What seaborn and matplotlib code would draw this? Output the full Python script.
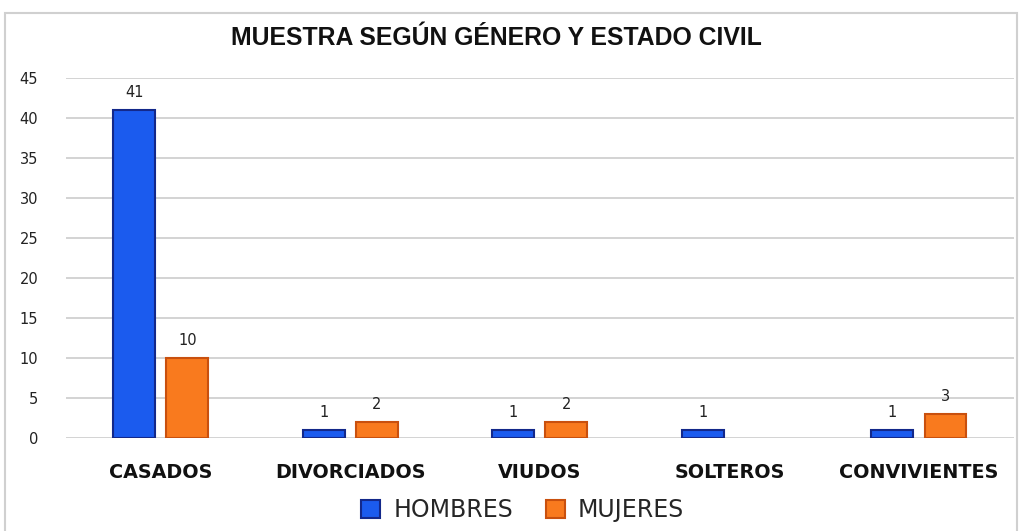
import matplotlib
matplotlib.use("Agg")
import matplotlib.pyplot as plt
import seaborn as sns
import pandas as pd
from matplotlib import font_manager
from matplotlib.patches import Rectangle, Patch

categories = ["CASADOS", "DIVORCIADOS", "VIUDOS", "SOLTEROS", "CONVIVIENTES"]
hombres = [41, 1, 1, 1, 1]
mujeres = [10, 2, 2, 0, 3]
series_names = ["HOMBRES", "MUJERES"]
title = "MUESTRA SEGÚN GÉNERO Y ESTADO CIVIL"
yticks = [0, 5, 10, 15, 20, 25, 30, 35, 40, 45]

sns.set_theme(style="white")
plt.rcParams['font.family'] = ['DejaVu Sans']

names = {f.name for f in font_manager.fontManager.ttflist}
title_font = "Liberation Sans Narrow" if "Liberation Sans Narrow" in names else "Liberation Sans"
title_size = 20 if title_font == "Liberation Sans Narrow" else 17.8

df = pd.DataFrame({
    "cat": categories * 2,
    "serie": [series_names[0]] * len(categories) + [series_names[1]] * len(categories),
    "val": hombres + mujeres,
})

fill = {"HOMBRES": "#1B5BEE", "MUJERES": "#F97A1E"}
edge = {"HOMBRES": "#13288A", "MUJERES": "#C9500E"}

fig = plt.figure(figsize=(10.19, 5.31), dpi=100)
ax = fig.add_axes([0.0648, 0.175, 0.93, 0.678])

sns.barplot(data=df, x="cat", y="val", hue="serie", order=categories,
            hue_order=series_names, palette=fill, width=0.56, gap=0.21,
            ax=ax, legend=False, saturation=1)

for cont, s in zip(ax.containers, series_names):
    for bar, v in zip(cont, cont.datavalues):
        bar.set_edgecolor(edge[s])
        bar.set_linewidth(1.5 if v > 0 else 0)
    labels = [str(int(v)) if v > 0 else "" for v in cont.datavalues]
    ax.bar_label(cont, labels=labels, padding=7, fontsize=10.5, color="#222222")

ax.set_ylim(0, 45)
ax.set_xlim(-0.5, len(categories) - 0.5)
ax.set_yticks(yticks)
ax.yaxis.grid(True, color="#CCCCCC", linewidth=1.2)
ax.set_axisbelow(True)
for sp in ax.spines.values():
    sp.set_visible(False)
ax.tick_params(axis="y", length=0, pad=20, labelsize=10.5, labelcolor="#222222")
ax.tick_params(axis="x", length=0, pad=18, labelsize=13.8)
for lab in ax.get_xticklabels():
    lab.set_fontweight("bold")
    lab.set_color("#111111")
ax.set_xlabel("")
ax.set_ylabel("")

fig.text(0.487, 0.928, title, ha="center", va="center", fontsize=title_size,
         fontweight="bold", family=title_font, color="#111111")

handles = [Patch(facecolor=fill[s], edgecolor=edge[s], linewidth=1.5) for s in series_names]
fig.legend(handles, series_names, loc="center", bbox_to_anchor=(0.513, 0.04),
           ncol=2, frameon=False, fontsize=17, handlelength=0.8, handleheight=0.8,
           columnspacing=1.4, handletextpad=0.55)

fig.patches.append(Rectangle((0.005, -0.01), 0.993, 0.985, transform=fig.transFigure,
                             fill=False, edgecolor="#D0D0D0", linewidth=1.5))

fig.savefig("out.png", dpi=100)
